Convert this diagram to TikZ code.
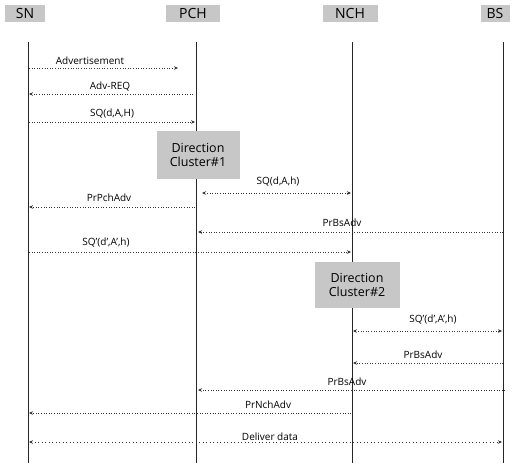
\documentclass[tikz,border=0pt]{standalone}
\usepackage{fontspec}
\setmainfont{Open Sans}
\usetikzlibrary{arrows.meta}
\begin{document}
\begin{tikzpicture}[x=1pt,y=-1pt,
  hdr/.style={fill=black!22,inner sep=1.5pt,text=black,font=\fontsize{14}{15}\selectfont,minimum height=17pt},
  clus/.style={fill=black!22,inner sep=2pt,align=center,text=black,font=\fontsize{12.5}{14}\selectfont,minimum width=83pt,minimum height=48pt},
  life/.style={draw=black!85,line width=0.9pt},
  msg/.style={draw=black!80,dotted,line width=0.6pt,-{Stealth[length=4pt,width=3.5pt]}},
  dmsg/.style={msg,{Stealth[length=4pt,width=3.5pt]}-{Stealth[length=4pt,width=3.5pt]}},
  lbl/.style={font=\fontsize{10}{11}\selectfont,text=black,inner sep=0pt}]
\useasboundingbox (0,0) rectangle (527,464);
% headers
\node[hdr,minimum width=40pt] (sn) at (25,13) {SN};
\node[hdr,minimum width=54pt] (pch) at (193,13) {PCH};
\node[hdr,minimum width=55pt] (nch) at (350,13) {NCH};
\node[hdr,minimum width=29pt] (bs) at (495,13) {BS};
% cluster boxes
\node[clus] (c1) at (198,155) {Direction\\Cluster\#1};
\node[clus,minimum width=85pt,minimum height=46pt] (c2) at (357,285) {Direction\\Cluster\#2};
% lifeline coordinates
\coordinate (snT) at (28,42);   \coordinate (snB) at (28,463);
\coordinate (pchT) at (196,42); \coordinate (pchB) at (196,463);
\coordinate (nchT) at (352,42); \coordinate (nchB) at (352,463);
\coordinate (bsT) at (503,42);  \coordinate (bsB) at (503,463);
\draw[life] (snT) -- (snB);
\draw[life] (pchT) -- (pchT |- c1.north);
\draw[life] (pchB |- c1.south) -- (pchB);
\draw[life] (nchT) -- (nchT |- c2.north);
\draw[life] (nchB |- c2.south) -- (nchB);
\draw[life] (bsT) -- (bsB);
% messages
\coordinate (a1) at (29,68);  \coordinate (a2) at (178,68);
\draw[msg] (a1) -- (a2);
\node[lbl] (l1) at (90,61) {Advertisement};
\coordinate (b1) at (193,94); \coordinate (b2) at (29,94);
\draw[msg] (b1) -- (b2);
\node[lbl] (l2) at (110,87) {Adv-REQ};
\coordinate (c1a) at (29,122); \coordinate (c1b) at (195,122);
\draw[msg] (c1a) -- (c1b);
\node[lbl] (l3) at (112,114) {SQ(d,A,H)};
\coordinate (d1) at (202,193); \coordinate (d2) at (351,193);
\draw[dmsg] (d1) -- (d2);
\node[lbl] (l4) at (278,182) {SQ(d,A,h)};
\coordinate (e1) at (195,207); \coordinate (e2) at (29,207);
\draw[msg] (e1) -- (e2);
\node[lbl] (l5) at (109,198) {PrPchAdv};
\coordinate (f1) at (503,232); \coordinate (f2) at (198,232);
\draw[msg] (f1) -- (f2);
\node[lbl] (l6) at (342,223) {PrBsAdv};
\coordinate (g1) at (29,252); \coordinate (g2) at (351,252);
\draw[msg] (g1) -- (g2);
\node[lbl] (l7) at (106,243) {SQ'(d',A',h)};
\coordinate (h1) at (353,331); \coordinate (h2) at (502,331);
\draw[dmsg] (h1) -- (h2);
\node[lbl] (l8) at (433,320) {SQ'(d',A',h)};
\coordinate (i1) at (503,363); \coordinate (i2) at (353,363);
\draw[msg] (i1) -- (i2);
\node[lbl] (l9) at (423,355) {PrBsAdv};
\coordinate (j1) at (505,390); \coordinate (j2) at (198,390);
\draw[msg] (j1) -- (j2);
\node[lbl] (l10) at (347,382) {PrBsAdv};
\coordinate (k1) at (351,413); \coordinate (k2) at (29,413);
\draw[msg] (k1) -- (k2);
\node[lbl] (l11) at (268,405) {PrNchAdv};
\coordinate (m1) at (29,442); \coordinate (m2) at (502,442);
\draw[dmsg,dash pattern=on 1pt off 2.5pt] (m1) -- (m2);
\node[lbl] (l12) at (270,437) {Deliver data};
\end{tikzpicture}
\end{document}
